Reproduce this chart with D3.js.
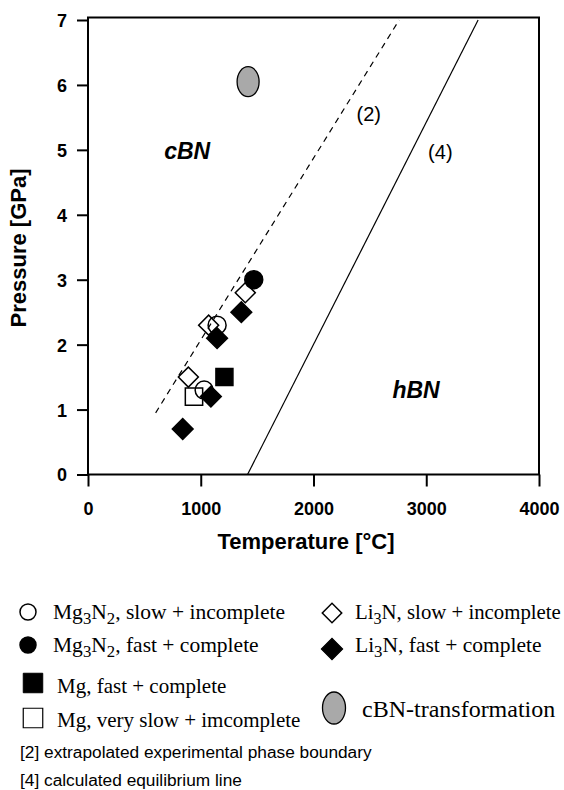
<!DOCTYPE html>
<html><head><meta charset="utf-8">
<script src="https://cdn.jsdelivr.net/npm/d3@7/dist/d3.min.js"></script>
<style>html,body{margin:0;padding:0;background:#fff}svg{display:block}</style>
</head><body>
<svg id="c" width="564" height="790"></svg>
<script>
// ---- data ----
const xTicks = [0, 1000, 2000, 3000, 4000];
const yTicks = [0, 1, 2, 3, 4, 5, 6, 7];
const mg3n2Slow = [[1145, 2.3], [1030, 1.3]];
const mg3n2Fast = [[1470, 3.0]];
const mgFast = [[1210, 1.5]];
const mgVerySlow = [[940, 1.2]];
const li3nSlow = [[890, 1.5], [1070, 2.3], [1395, 2.8]];
const li3nFast = [[840, 0.7], [1090, 1.2], [1145, 2.1], [1360, 2.5]];
const cbnTransformation = [[1420, 6.05]];
const line2 = [[600, 0.95], [2760, 7.0]];
const line4 = [[1415, 0], [3460, 7.0]];
const regionLabels = [["cBN", 880, 4.98], ["hBN", 2910, 1.3]];
const lineLabels = [["(2)", 2490, 5.55], ["(4)", 3125, 4.97]];

const svg = d3.select("#c");
const x = d3.scaleLinear().domain([0, 4000]).range([88, 539]);
const y = d3.scaleLinear().domain([0, 7]).range([474.5, 20]);
const sans = "'Liberation Sans', Arial, Helvetica, sans-serif";
const serif = "'Liberation Serif', 'Times New Roman', serif";

// frame
const fTop = y(7.04);
svg.append("path")
  .attr("d", `M${x(0)},${y(0)}V${fTop}H${x(4000)}V${y(0)}Z`)
  .attr("fill", "none").attr("stroke", "#000").attr("stroke-width", 2);

// axes
const fmt = d3.format("d");
const xAxis = svg.append("g").attr("transform", `translate(0,${y(0)})`)
  .call(d3.axisBottom(x).tickValues(xTicks).tickFormat(fmt).tickSize(12).tickSizeOuter(0).tickPadding(16));
const yAxis = svg.append("g").attr("transform", `translate(${x(0)},0)`)
  .call(d3.axisLeft(y).tickValues(yTicks).tickFormat(fmt).tickSize(11).tickSizeOuter(0).tickPadding(10));
[xAxis, yAxis].forEach(g => {
  g.select(".domain").remove();
  g.selectAll("line").attr("stroke", "#000").attr("stroke-width", 2);
  g.selectAll("text").attr("font-family", sans).attr("font-weight", "bold")
    .attr("font-size", 18).attr("fill", "#000");
});
yAxis.selectAll("text").attr("dy", "0.36em");

// axis titles
svg.append("text").attr("x", 306).attr("y", 549).attr("text-anchor", "middle")
  .attr("font-family", sans).attr("font-weight", "bold").attr("font-size", 22)
  .text("Temperature [°C]");
svg.append("text").attr("transform", "translate(26,248) rotate(-90)").attr("text-anchor", "middle")
  .attr("font-family", sans).attr("font-weight", "bold").attr("font-size", 22)
  .text("Pressure [GPa]");

// lines
const lineGen = d3.line().x(d => x(d[0])).y(d => y(d[1]));
svg.append("path").attr("d", lineGen(line2)).attr("fill", "none")
  .attr("stroke", "#000").attr("stroke-width", 1.2).attr("stroke-dasharray", "6,5");
svg.append("path").attr("d", lineGen(line4)).attr("fill", "none")
  .attr("stroke", "#000").attr("stroke-width", 1.2);

// labels
svg.selectAll(".rl").data(regionLabels).enter().append("text")
  .attr("x", d => x(d[1])).attr("y", d => y(d[2])).attr("text-anchor", "middle")
  .attr("dy", "0.35em")
  .attr("font-family", sans).attr("font-weight", "bold").attr("font-style", "italic")
  .attr("font-size", 23).text(d => d[0]);
svg.selectAll(".ll").data(lineLabels).enter().append("text")
  .attr("x", d => x(d[1])).attr("y", d => y(d[2])).attr("text-anchor", "middle")
  .attr("dy", "0.35em")
  .attr("font-family", sans).attr("font-size", 20).text(d => d[0]);

// symbols
const sq = (s) => d3.symbol().type(d3.symbolSquare).size(s)();
const circ = (s) => d3.symbol().type(d3.symbolCircle).size(s)();
function pts(data, path, fill, rot) {
  svg.append("g").selectAll("path").data(data).enter().append("path")
    .attr("d", path)
    .attr("transform", d => `translate(${x(d[0])},${y(d[1])})` + (rot ? " rotate(45)" : ""))
    .attr("fill", fill).attr("stroke", "#000").attr("stroke-width", 1.5);
}
pts(mgVerySlow, sq(300), "none");
pts(mg3n2Slow, circ(Math.PI * 81), "none");
pts(li3nSlow, sq(200), "none", true);
pts(mg3n2Fast, circ(Math.PI * 81), "#000");
pts(mgFast, sq(289), "#000");
pts(li3nFast, sq(215), "#000", true);
svg.append("g").selectAll("ellipse").data(cbnTransformation).enter().append("ellipse")
  .attr("cx", d => x(d[0])).attr("cy", d => y(d[1])).attr("rx", 11).attr("ry", 15)
  .attr("fill", "#a9a9a9").attr("stroke", "#000").attr("stroke-width", 1.3);

// legend
const legend = svg.append("g");
// parts: strings = normal text; {s: "3"} = subscript
function legText(xp, yp, parts, size) {
  size = size || 21;
  const t = legend.append("text").attr("x", xp).attr("y", yp)
    .attr("font-family", serif).attr("font-size", size);
  let shifted = false;
  parts.forEach(p => {
    if (typeof p === "string") {
      const ts = t.append("tspan").text(p);
      if (shifted) { ts.attr("dy", -5); shifted = false; }
    } else {
      t.append("tspan").attr("font-size", size * 0.78).attr("dy", 5).text(p.s);
      shifted = true;
    }
  });
}
legend.append("path").attr("d", circ(Math.PI * 64)).attr("transform", "translate(28,612)")
  .attr("fill", "none").attr("stroke", "#000").attr("stroke-width", 1.5);
legText(53, 619, ["Mg", {s: "3"}, "N", {s: "2"}, ", slow + incomplete"], 21.5);
legend.append("path").attr("d", circ(Math.PI * 64)).attr("transform", "translate(28,645)")
  .attr("fill", "#000").attr("stroke", "#000").attr("stroke-width", 1.5);
legText(53, 652, ["Mg", {s: "3"}, "N", {s: "2"}, ", fast + complete"], 21.5);
legend.append("path").attr("d", sq(380)).attr("transform", "translate(33,683)")
  .attr("fill", "#000").attr("stroke", "#000").attr("stroke-width", 1);
legText(57, 693, ["Mg, fast + complete"]);
legend.append("path").attr("d", sq(380)).attr("transform", "translate(33,718)")
  .attr("fill", "none").attr("stroke", "#000").attr("stroke-width", 1.2);
legText(57, 727, ["Mg, very slow + imcomplete"]);

legend.append("path").attr("d", sq(190)).attr("transform", "translate(332,613) rotate(45)")
  .attr("fill", "none").attr("stroke", "#000").attr("stroke-width", 1.5);
legText(355, 619, ["Li", {s: "3"}, "N, slow + incomplete"], 20.8);
legend.append("path").attr("d", sq(230)).attr("transform", "translate(332,649) rotate(45)")
  .attr("fill", "#000").attr("stroke", "#000").attr("stroke-width", 1);
legText(355, 652, ["Li", {s: "3"}, "N, fast + complete"], 21.5);
legend.append("ellipse").attr("cx", 334).attr("cy", 708).attr("rx", 11.5).attr("ry", 16)
  .attr("fill", "#a9a9a9").attr("stroke", "#000").attr("stroke-width", 1.3);
legText(362, 717, ["cBN-transformation"], 24);

legend.append("text").attr("x", 20).attr("y", 758).attr("font-family", sans).attr("font-size", 17.3)
  .text("[2] extrapolated experimental phase boundary");
legend.append("text").attr("x", 20).attr("y", 786).attr("font-family", sans).attr("font-size", 17.3)
  .text("[4] calculated equilibrium line");
</script>
</body></html>
